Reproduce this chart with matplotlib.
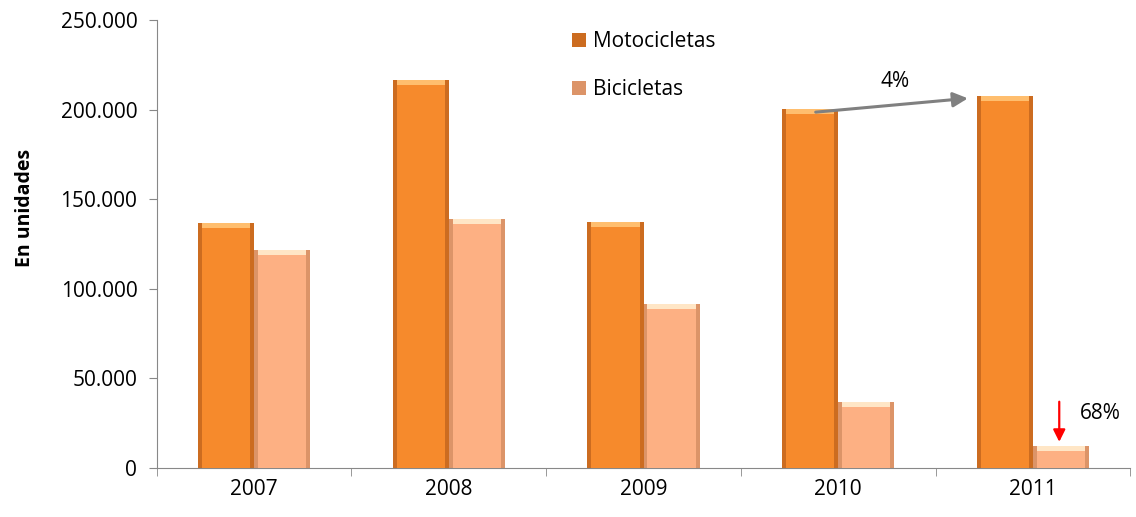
import numpy as np
import matplotlib
matplotlib.use("Agg")
import matplotlib.pyplot as plt
from matplotlib.ticker import FuncFormatter

years = ["2007", "2008", "2009", "2010", "2011"]
motocicletas = [136700, 216500, 137300, 200200, 207600]
bicicletas = [121600, 139000, 91500, 36800, 12300]

plt.rcParams['font.family'] = ['Open Sans', 'DejaVu Sans']

fig = plt.figure(figsize=(11.36, 5.17), dpi=100)
ax = fig.add_axes([0.138, 0.095, 0.857, 0.866])

x = np.arange(len(years))
w = 0.288
bev = 2600  # bevel depth in data units


def bevel_bars(xpos, vals, dark, main, light, label):
    ax.bar(xpos, vals, w, color=dark, zorder=2, label=label)
    inner = [max(v - bev, 0) for v in vals]
    ax.bar(xpos, inner, w * 0.86, color=main, zorder=3)
    ax.bar(xpos, [bev] * len(vals), w * 0.86, bottom=inner, color=light, zorder=3)


bevel_bars(x - w / 2, motocicletas, "#CC6C20", "#F68A2C", "#FFBE6E", "Motocicletas")
bevel_bars(x + w / 2, bicicletas, "#DC9468", "#FDB083", "#FFE6C6", "Bicicletas")

ax.set_xlim(-0.5, len(years) - 0.5)
ax.set_ylim(0, 250000)
ax.set_yticks(np.arange(0, 250001, 50000))
ax.yaxis.set_major_formatter(FuncFormatter(lambda v, p: "0" if v == 0 else f"{int(v):,}".replace(",", ".")))
ax.set_xticks(x)
ax.set_xticklabels(years)
ax.set_xticks(np.arange(-0.5, len(years)), minor=True)
ax.tick_params(axis='x', which='major', length=0, pad=8, labelsize=15)
ax.tick_params(axis='x', which='minor', length=6, color="#888888")
ax.tick_params(axis='y', length=6, color="#888888", labelsize=15, pad=8)

for s in ['top', 'right']:
    ax.spines[s].set_visible(False)
for s in ['left', 'bottom']:
    ax.spines[s].set_color("#888888")

ax.set_ylabel("En unidades", fontsize=14, fontweight='bold')
ax.yaxis.set_label_coords(-0.125, 0.58)

ax.legend(loc='upper left', bbox_to_anchor=(0.407, 1.017), frameon=False, fontsize=15,
          handlelength=0.7, handleheight=0.7, labelspacing=1.3, handletextpad=0.3)

# annotations
ax.annotate("", xy=(3.68, 206500), xytext=(2.87, 198500),
            arrowprops=dict(arrowstyle="-|>", color="#808080", lw=2.2, mutation_scale=22), zorder=5)
ax.text(3.29, 216000, "4%", fontsize=15, ha='center', va='center')
ax.annotate("", xy=(4.135, 13000), xytext=(4.135, 38500),
            arrowprops=dict(arrowstyle="-|>", color="red", lw=1.6, mutation_scale=18), zorder=5)
ax.text(4.24, 30500, "68%", fontsize=15, ha='left', va='center')

fig.savefig("out.png", dpi=100)
